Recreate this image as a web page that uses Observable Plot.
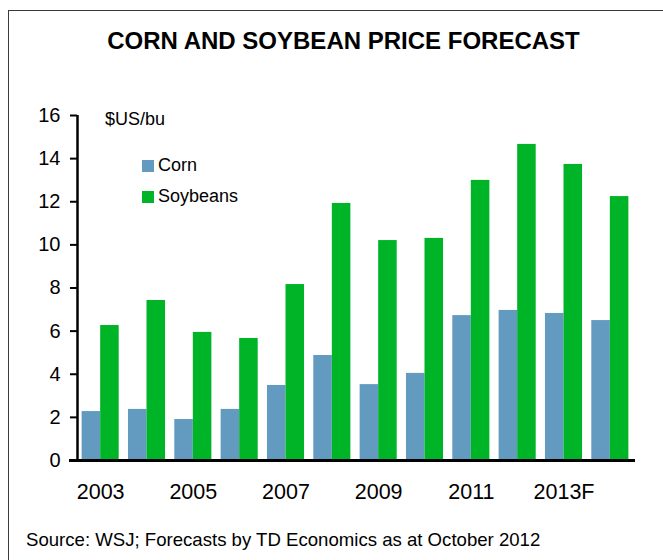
<!DOCTYPE html>
<html>
<head>
<meta charset="utf-8">
<script src="https://cdn.jsdelivr.net/npm/d3@7"></script>
<script src="https://cdn.jsdelivr.net/npm/@observablehq/plot@0.6"></script>
<style>
  html, body { margin: 0; padding: 0; background: #fff; }
  #wrap { position: relative; width: 663px; height: 560px; overflow: hidden; font-family: "Liberation Sans", Arial, sans-serif; color: #000; }
  #frame { position: absolute; left: 8px; top: 10px; width: 700px; height: 600px; border: 1.5px solid #3a3a3a; box-sizing: border-box; }
  #title { position: absolute; left: 0; width: 687px; top: 27px; text-align: center; font-weight: bold; font-size: 24px; }
  #chart { position: absolute; left: 0; top: 100px; }
  #caption { position: absolute; left: 26px; top: 529px; font-size: 18.6px; }
  #unit { position: absolute; left: 105px; top: 109px; font-size: 18px; }
  .leg { position: absolute; left: 142px; font-size: 18px; display: flex; align-items: center; }
  .sw { width: 12px; height: 12px; margin-right: 4px; }
</style>
</head>
<body>
<div id="wrap">
  <div id="frame"></div>
  <div id="title">CORN AND SOYBEAN PRICE FORECAST</div>
  <div id="chart"></div>
  <div id="unit">$US/bu</div>
  <div id="legend"></div>
  <div id="caption">Source: WSJ; Forecasts by TD Economics as at October 2012</div>
</div>
<script>
const years = [2003, 2004, 2005, 2006, 2007, 2008, 2009, 2010, 2011, 2012, 2013, 2014];
const corn = [2.27, 2.37, 1.90, 2.37, 3.48, 4.87, 3.52, 4.04, 6.72, 6.96, 6.82, 6.49];
const soybeans = [6.26, 7.42, 5.94, 5.66, 8.16, 11.92, 10.20, 10.30, 12.99, 14.66, 13.73, 12.24];
const tickYears = [2003, 2005, 2007, 2009, 2011, 2013];
const tickLabels = ["2003", "2005", "2007", "2009", "2011", "2013F"];
const yTicks = [0, 2, 4, 6, 8, 10, 12, 14, 16];
const seriesNames = ["Corn", "Soybeans"];
const seriesColors = ["#639bc0", "#00b428"];

const rows = [];
years.forEach((y, i) => {
  rows.push({year: y, series: "Corn", value: corn[i]});
  rows.push({year: y, series: "Soybeans", value: soybeans[i]});
});
const half = 0.4;

const plot = Plot.plot({
  width: 663,
  height: 420,
  marginLeft: 77,
  marginRight: 30,
  marginTop: 15,
  marginBottom: 60,
  style: {fontFamily: "'Liberation Sans', Arial, sans-serif", color: "#000", background: "transparent"},
  x: {domain: [2002.5, 2014.5], axis: null},
  y: {domain: [0, 16], axis: null},
  color: {domain: seriesNames, range: seriesColors},
  marks: [
    Plot.rectY(rows, {
      x1: d => d.series === "Corn" ? d.year - half : d.year,
      x2: d => d.series === "Corn" ? d.year : d.year + half,
      y1: 0,
      y2: "value",
      fill: "series"
    }),
    Plot.axisY({ticks: yTicks, label: null, tickSize: 7, tickPadding: 10, fontSize: 20, strokeWidth: 2, tickFormat: d => String(d)}),
    Plot.axisX({ticks: tickYears, label: null, tickSize: 0, tickPadding: 23, fontSize: 21.5, tickFormat: d => tickLabels[tickYears.indexOf(d)]}),
    Plot.ruleX([2002.5], {y1: 0, y2: 16, strokeWidth: 2.5}),
    Plot.ruleY([0], {strokeWidth: 3, insetLeft: -8, insetRight: -2})
  ]
});
document.getElementById("chart").appendChild(plot);

const legend = document.getElementById("legend");
seriesNames.forEach((name, i) => {
  const item = document.createElement("div");
  item.className = "leg";
  item.style.top = (155 + i * 31) + "px";
  const sw = document.createElement("div");
  sw.className = "sw";
  sw.style.background = seriesColors[i];
  item.appendChild(sw);
  item.appendChild(document.createTextNode(name));
  legend.appendChild(item);
});
</script>
</body>
</html>
